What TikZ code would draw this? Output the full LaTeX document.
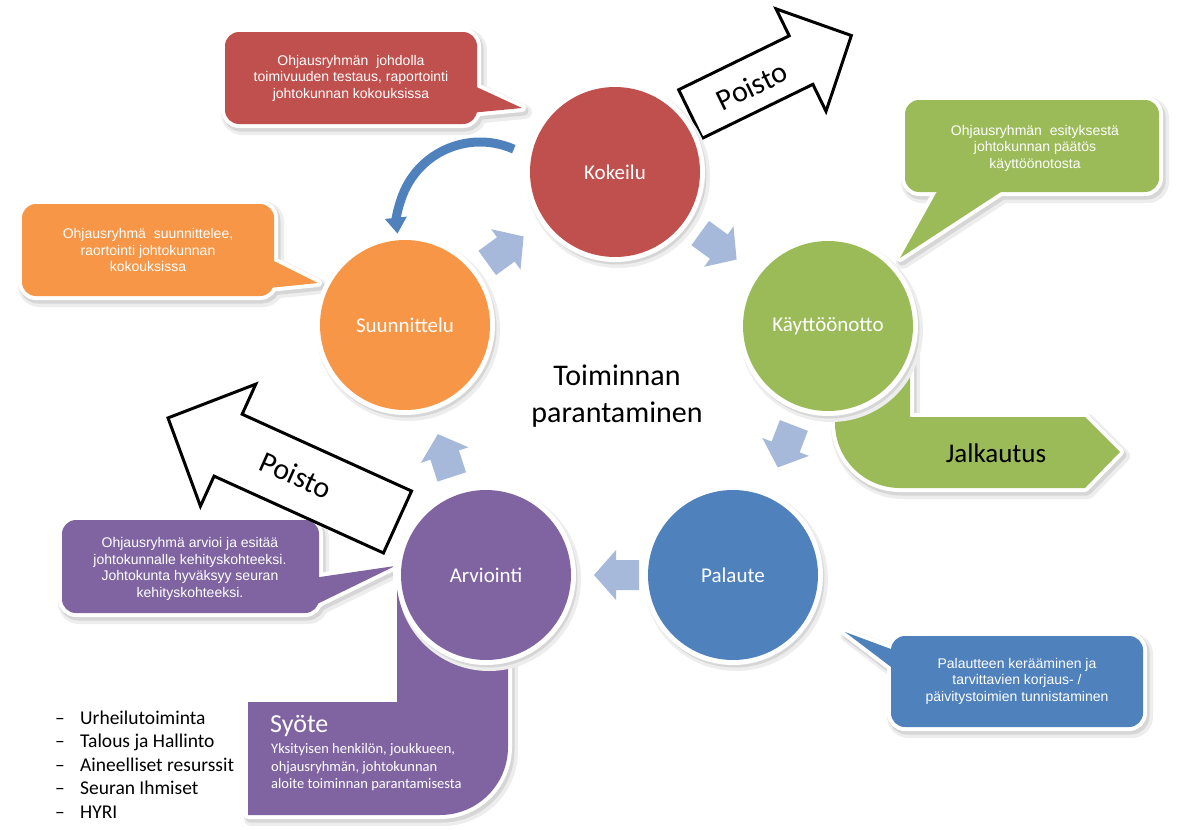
\documentclass[tikz,border=0pt]{standalone}
\usepackage{fontspec}
\setmainfont{Carlito}
\newfontfamily\calloutfamily{Liberation Sans}
\usetikzlibrary{arrows.meta}

\definecolor{kred}{HTML}{C0504D}
\definecolor{kgreen}{HTML}{9BBB59}
\definecolor{kblue}{HTML}{4F81BD}
\definecolor{kpurple}{HTML}{8064A2}
\definecolor{korange}{HTML}{F79646}
\definecolor{kchev}{RGB}{167,185,218}
\definecolor{shadeA}{gray}{0.93}
\definecolor{shadeB}{gray}{0.84}

% filled shape (body #3 plus optional pointer #4) with white rim and a soft shadow
\newcommand\softshape[4]{%
  \path[fill=shadeA, draw=shadeA, line width=14pt, line join=round, shift={(3,4)}] #3;
  \path[fill=shadeA, draw=shadeA, line width=14pt, line join=round, shift={(3,4)}] #4;
  \path[fill=shadeB, draw=shadeB, line width=9pt, line join=round, shift={(2,3)}] #3;
  \path[fill=shadeB, draw=shadeB, line width=9pt, line join=round, shift={(2,3)}] #4;
  \path[fill=#2, draw=white, line width=#1, line join=round] #3;
  \path[fill=#2, draw=white, line width=#1, line join=round] #4;
  \path[fill=#2] #3;
  \path[fill=#2] #4;
}
% small block arrow between two stages
\newcommand\chevron[3]{%
  \fill[chev, shift={(#1,#2)}, rotate=#3]
    (-22,-15) -- (1,-15) -- (1,-25) -- (23,0) -- (1,25) -- (1,15) -- (-22,15) -- cycle;
}
\newcommand\cofont{\calloutfamily\fontsize{14pt}{16.5pt}\selectfont}

\tikzset{
  chev/.style={fill=kchev},
  stagelabel/.style={text=white, font=\fontsize{21pt}{25pt}\selectfont},
  calloutlabel/.style={text=white, align=center, font=\cofont, inner sep=0pt},
  outarrow/.style={fill=white, draw=black, line width=3pt, line join=miter},
  outlabel/.style={font=\fontsize{30pt}{36pt}\selectfont, inner sep=0pt},
  bendarrow/.style={draw=kblue, line width=9pt, -{Triangle[width=21pt,length=16pt]}},
  listitem/.style={anchor=base west, inner sep=0pt, font=\fontsize{19.5pt}{23.5pt}\selectfont},
  syotetext/.style={anchor=base west, inner sep=0pt, text=white, font=\fontsize{14.5pt}{17pt}\selectfont},
}

\begin{document}
\begin{tikzpicture}[x=1pt, y=-1pt]
\useasboundingbox (0,0) rectangle (1184,830);

% speech bubbles
\softshape{8pt}{kred}{[rounded corners=14pt] (225,32) rectangle (477,124)}
  {(470,84) -- (522,108) -- (470,113) -- cycle}
\softshape{8pt}{kgreen}{[rounded corners=14pt] (905,100) rectangle (1159,192)}
  {(940,186) -- (900,258) -- (1010,186) -- cycle}
\softshape{8pt}{korange}{[rounded corners=14pt] (22,204) rectangle (274,296)}
  {(268,258) -- (318,283) -- (268,288) -- cycle}
\softshape{8pt}{kpurple}{[rounded corners=14pt] (62,520) rectangle (319,613)}
  {(313,578) -- (395,566) -- (313,606) -- cycle}
\softshape{8pt}{kblue}{[rounded corners=14pt] (891,636) rectangle (1143,727)}
  {(899,652) -- (845,632) -- (899,673) -- cycle}

% bent arrows leaving two stages
\softshape{8pt}{kgreen}{(910,320) -- (835,320) -- (835,423)
  arc[start angle=180, end angle=270, radius=65pt]
  -- (1085,488) -- (1120,452) -- (1085,417) -- (910,417) -- cycle}{}
\softshape{8pt}{kpurple}{(397,560) -- (397,702) -- (248,702) -- (248,815) -- (440,815)
  arc[start angle=270, end angle=360, radius=68pt] -- (508,560) -- cycle}{}

% outline arrows
\draw[outarrow, shift={(690.5,114)}, rotate=26]
  (0,-27) -- (123,-27) -- (123,-57) -- (179,0) -- (123,57) -- (123,27) -- (0,27) -- cycle;
\draw[outarrow, shift={(397.5,522)}, rotate=155.6]
  (0,-34) -- (186,-34) -- (186,-67) -- (252,0) -- (186,67) -- (186,34) -- (0,34) -- cycle;

% stage circles
\softshape{10pt}{kred}{(615,172) circle[radius=85pt]}{}
\softshape{10pt}{kgreen}{(828,326) circle[radius=85pt]}{}
\softshape{10pt}{kblue}{(733,575) circle[radius=85pt]}{}
\softshape{10pt}{kpurple}{(486,575) circle[radius=85pt]}{}
\softshape{10pt}{korange}{(405,325) circle[radius=85pt]}{}

% cycle arrows
\chevron{505}{250}{36}
\chevron{718}{246}{-36}
\chevron{786}{446}{-111}
\chevron{617}{575}{180}
\chevron{445}{456}{108}

% return arrow from Kokeilu back to Suunnittelu
\coordinate (bendstart) at (513.8,149.2);
\draw[bendarrow] (bendstart) arc[start angle=66, end angle=186, radius=83pt];

% stage labels
\node[stagelabel] (kok) at (615,172) {Kokeilu};
\node[stagelabel] (kay) at (828,326) {Käyttöönotto};
\node[stagelabel] (pal) at (733,575) {Palaute};
\node[stagelabel] (arv) at (486,575) {Arviointi};
\node[stagelabel] (suu) at (405,325) {Suunnittelu};

% bubble texts
\node[calloutlabel] (tkok) at (351,78) {Ohjausryhmän\ \ johdolla\\toimivuuden testaus, raportointi\\johtokunnan kokouksissa};
\node[calloutlabel] (tkay) at (1035,148) {Ohjausryhmän\ \ esityksestä\\johtokunnan päätös\\käyttöönotosta};
\node[calloutlabel] (tsuu) at (148,250) {Ohjausryhmä\ \ suunnittelee,\\raortointi johtokunnan\\kokouksissa};
\node[calloutlabel] (tarv) at (190,569) {Ohjausryhmä arvioi ja esitää\\johtokunnalle kehityskohteeksi.\\Johtokunta hyväksyy seuran\\kehityskohteeksi.};
\node[calloutlabel] (tpal) at (1017,681) {Palautteen kerääminen ja\\tarvittavien korjaus- /\\päivitystoimien tunnistaminen};

% centre title
\node[align=center, font=\fontsize{30pt}{37pt}\selectfont] (title) at (617,396) {Toiminnan\\parantaminen};

% outline arrow labels
\node[outlabel, rotate=26] (poisto1) at (752,86) {Poisto};
\node[outlabel, rotate=-24] (poisto2) at (296,475) {Poisto};

% bent arrow labels
\node[font=\fontsize{27pt}{32pt}\selectfont, inner sep=0pt] (jalk) at (996,453) {Jalkautus};
\node[anchor=base west, inner sep=0pt, text=white, font=\fontsize{26pt}{30pt}\selectfont] (syote) at (270,732) {Syöte};
\node[syotetext] (syl1) at (271,753) {Yksityisen henkilön, joukkueen,};
\node[syotetext] (syl2) at (271,771) {ohjausryhmän, johtokunnan};
\node[syotetext] (syl3) at (271,788) {aloite toiminnan parantamisesta};

% resource list
\node[listitem] (li1) at (55,724) {\makebox[25pt][l]{–}Urheilutoiminta};
\node[listitem] (li2) at (55,747.5) {\makebox[25pt][l]{–}Talous ja Hallinto};
\node[listitem] (li3) at (55,771) {\makebox[25pt][l]{–}Aineelliset resurssit};
\node[listitem] (li4) at (55,794.5) {\makebox[25pt][l]{–}Seuran Ihmiset};
\node[listitem] (li5) at (55,818) {\makebox[25pt][l]{–}HYRI};
\end{tikzpicture}
\end{document}
